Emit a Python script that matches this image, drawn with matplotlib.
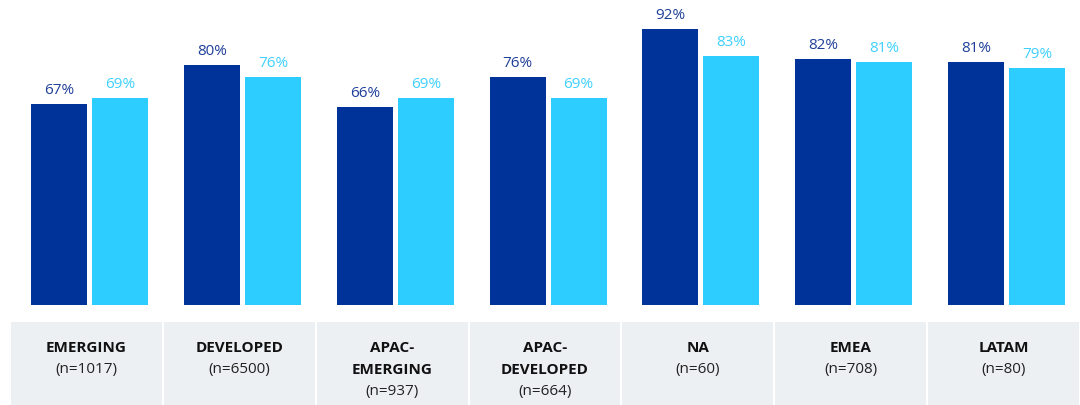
import matplotlib
matplotlib.use("Agg")
import matplotlib.pyplot as plt
import numpy as np

categories = ["EMERGING", "DEVELOPED", "APAC-\nEMERGING", "APAC-\nDEVELOPED", "NA", "EMEA", "LATAM"]
sample_sizes = [1017, 6500, 937, 664, 60, 708, 80]
series_a = [67, 80, 66, 76, 92, 82, 81]
series_b = [69, 76, 69, 69, 83, 81, 79]

DARK = "#003399"
LIGHT = "#2ecdff"
DARK_TXT = "#1f3f99"
LIGHT_TXT = "#3fd0ff"
PANEL = "#edf0f3"

plt.rcParams["font.family"] = ["Open Sans", "DejaVu Sans"]

W, H = 1080, 406
fig = plt.figure(figsize=(W / 100, H / 100), dpi=100)

# bar area: baseline at y=306px, 100% at y=6px
ax = fig.add_axes([10 / W, (H - 306) / H, 1070 / W, 300 / H])
x = np.arange(len(categories))
bw = 0.366
shift = 0.02
off = 0.1995
ax.bar(x + shift - off, series_a, width=bw, color=DARK)
ax.bar(x + shift + off, series_b, width=bw, color=LIGHT)

for xi, a, b in zip(x, series_a, series_b):
    ax.annotate(f"{a}%", (xi + shift - off, a), xytext=(0, 5), textcoords="offset points",
                ha="center", va="bottom", fontsize=11, color=DARK_TXT)
    ax.annotate(f"{b}%", (xi + shift + off, b), xytext=(0, 5), textcoords="offset points",
                ha="center", va="bottom", fontsize=11, color=LIGHT_TXT)

ax.set_xlim(-0.5, len(categories) - 0.5)
ax.set_ylim(0, 100)
ax.axis("off")

# category panel underneath
ax2 = fig.add_axes([10 / W, 0, 1070 / W, (H - 323) / H])
ax2.bar(x, [1] * len(x), width=1 - 2 / 153, bottom=0, color=PANEL)
ax2.set_xlim(-0.5, len(categories) - 0.5)
ax2.set_ylim(0, 1)
ax2.axis("off")

panel_h = H - 323
for xi, name, n in zip(x, categories, sample_sizes):
    lines = name.split("\n")
    for k, line in enumerate(lines):
        yy = 1 - (25 + 22 * k) / panel_h
        ax2.text(xi, yy, line, ha="center", va="center", fontsize=11,
                 fontweight="bold", color="#111111")
    yy = 1 - (25 + 22 * len(lines)) / panel_h
    ax2.text(xi, yy, f"(n={n})", ha="center", va="center", fontsize=11, color="#222222")

fig.savefig("out.png", dpi=100)
